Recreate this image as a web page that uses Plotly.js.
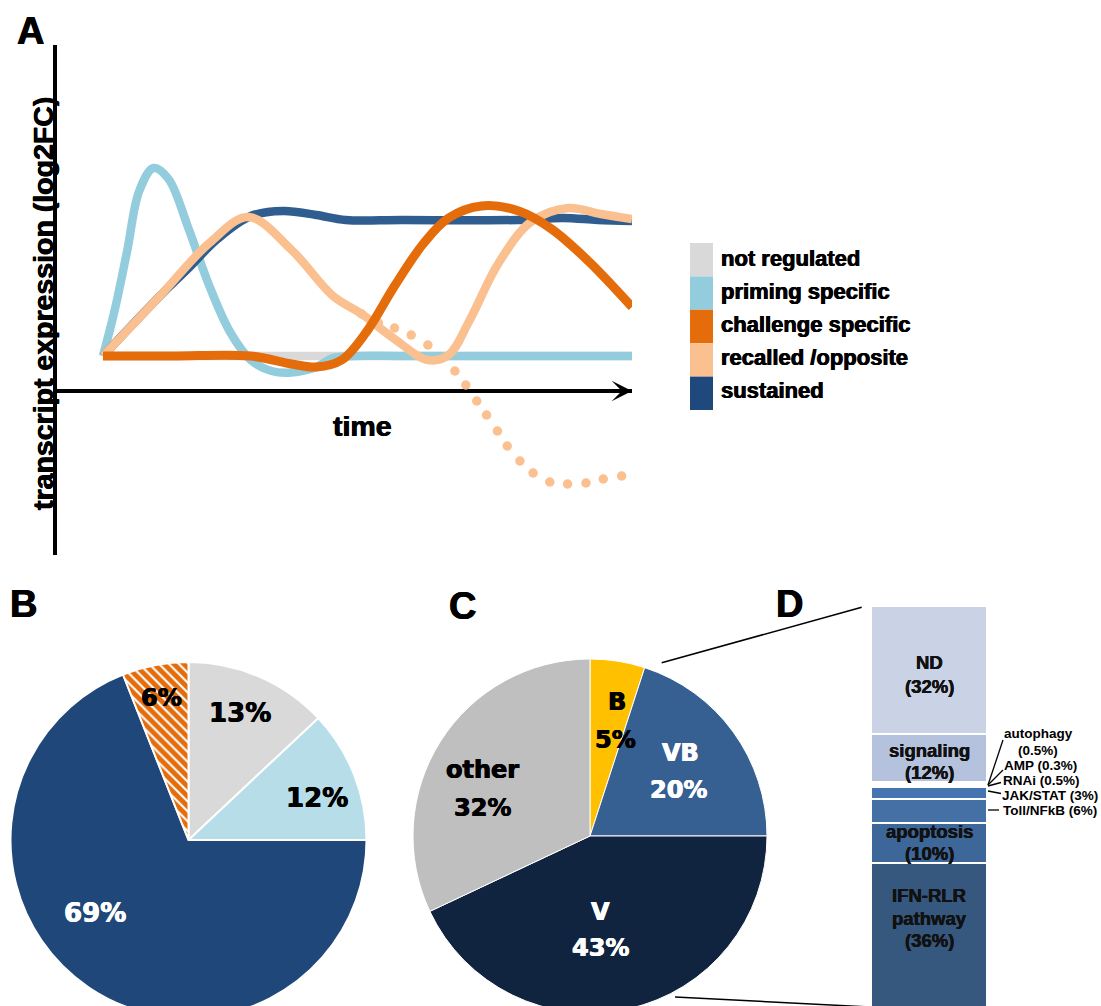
<!DOCTYPE html>
<html>
<head>
<meta charset="utf-8">
<script src="https://cdn.plot.ly/plotly-3.0.1.min.js"></script>
<style>
  html, body { margin: 0; padding: 0; background: #ffffff; }
  #wrap { width: 1101px; height: 1006px; overflow: hidden; position: relative; }
  #chart { width: 1101px; height: 1020px; }
</style>
</head>
<body>
<div id="wrap"><div id="chart"></div></div>
<script>
// ---------------- DATA ----------------
// Panel A: schematic expression profiles (time 0-100, log2FC units)
const seriesNames = ['not regulated', 'priming specific', 'challenge specific', 'recalled /opposite', 'sustained'];
const seriesColors = ['#D9D9D9', '#93CDDD', '#E46C0A', '#FAC090', '#1F497D'];

const notRegT = [8, 100];
const notRegY = [3.5, 3.5];

const primingT = [8, 10, 12.2, 14.3, 16.8, 19.4, 22.9, 26.5, 30.1, 33.7, 37.3, 40.8, 45.1, 48, 52, 60, 100];
const primingY = [3.5, 8.0, 14.0, 20.0, 22.3, 21.2, 16.2, 10.5, 5.9, 3.1, 2.0, 1.85, 2.4, 3.3, 3.5, 3.5, 3.5];

const sustainedT = [8, 17.9, 22.9, 27.9, 33.7, 39.4, 45.1, 50.2, 60, 80, 88, 94, 100];
const sustainedY = [3.5, 9.5, 12.3, 15.2, 17.5, 18.0, 17.6, 17.1, 17.1, 17.1, 17.3, 17.1, 17.0];

const recalledT = [8, 17.9, 26.5, 33.3, 40.8, 48, 53, 58.7, 64.5, 68.1, 71.7, 76.7, 82.4, 88.9, 94.6, 100];
const recalledY = [3.5, 9.5, 14.8, 17.4, 14.1, 9.5, 7.7, 5.2, 3.1, 3.6, 7.0, 12.7, 16.9, 18.3, 17.7, 17.2];

const oppositeT = [53, 55.9, 58.7, 61.6, 64.5, 69.2, 71.1, 73, 74.7, 76.6, 78.3, 80.5, 82.8, 85.7, 88.8, 92, 95, 98.2];
const oppositeY = [7.7, 6.8, 6.3, 5.6, 4.6, 2.0, 0.6, -1.0, -2.4, -4.0, -5.5, -7.0, -8.2, -9.1, -9.3, -9.2, -8.8, -8.5];

const challengeT = [8, 20, 33.7, 40.8, 45.1, 49.5, 53.8, 58.7, 63.8, 68.1, 73.8, 80.3, 86, 92.4, 100];
const challengeY = [3.5, 3.5, 3.5, 2.7, 2.4, 3.1, 5.9, 10.5, 14.8, 17.3, 18.5, 18.0, 16.2, 13.0, 8.4];

// Panel B pie
const pieBLabels = ['not regulated', 'priming specific', 'sustained', 'challenge specific'];
const pieBValues = [13, 12, 69, 6];
const pieBText = ['13%', '12%', '69%', '6%'];
const pieBColors = ['#D9D9D9', '#B7DEE8', '#1F4779', '#E46C0A'];

// Panel C pie
const pieCLabels = ['B', 'VB', 'V', 'other'];
const pieCValues = [5, 20, 43, 32];
const pieCColors = ['#FFC000', '#376092', '#10243F', '#BFBFBF'];

// Panel D stacked bar (bottom to top)
const barDLabels = ['IFN-RLR pathway', 'apoptosis', 'Toll/NFkB', 'JAK/STAT', 'RNAi', 'AMP', 'autophagy', 'signaling', 'ND'];
const barDValues = [36, 10, 6, 3, 0.5, 0.3, 0.5, 12, 32];
const barDColors = ['#36587F', '#3D6699', '#4470A6', '#4674B0', '#7F9CCB', '#9AB0D6', '#A9BBDC', '#B4C2DD', '#CAD3E5'];

// ---------------- LAYOUT HELPERS ----------------
const W = 1101, H = 1020;
const X = p => p / W;
const Y = p => 1 - p / H;
const FONT = 'Liberation Sans, Arial, Helvetica, sans-serif';
const HEAVY = 'DejaVu Sans, Liberation Sans, sans-serif';

function ann(text, x, y, size, color, extra, family, sh) {
  const c = color || '#000';
  const s = (sh === undefined) ? 0.45 : sh;
  return Object.assign({
    text: '<b>' + text + '</b>', x: X(x), y: Y(y), xref: 'paper', yref: 'paper',
    showarrow: false, xanchor: 'center', yanchor: 'middle',
    font: { family: family || FONT, size: size, color: c,
            shadow: s > 0 ? (s + 'px 0 0 ' + c + ', -' + s + 'px 0 0 ' + c) : 'none' }
  }, extra || {});
}
function seg(x0, y0, x1, y1, w) {
  return { type: 'line', xref: 'paper', yref: 'paper', x0: X(x0), y0: Y(y0), x1: X(x1), y1: Y(y1),
           line: { color: '#000', width: w || 1.3 } };
}

// ---------------- TRACES ----------------
const lineW = 8.5;
const traces = [
  { type: 'scatter', mode: 'lines', x: notRegT, y: notRegY, name: seriesNames[0],
    line: { color: seriesColors[0], width: lineW }, hoverinfo: 'skip' },
  { type: 'scatter', mode: 'lines', x: primingT, y: primingY, name: seriesNames[1],
    line: { color: seriesColors[1], width: lineW, shape: 'spline', smoothing: 1 }, hoverinfo: 'skip' },
  { type: 'scatter', mode: 'lines', x: sustainedT, y: sustainedY, name: seriesNames[4],
    line: { color: '#2F5D8F', width: lineW, shape: 'spline', smoothing: 1 }, hoverinfo: 'skip' },
  { type: 'scatter', mode: 'markers', x: oppositeT, y: oppositeY, name: 'opposite',
    marker: { color: seriesColors[3], size: 9.5 }, hoverinfo: 'skip' },
  { type: 'scatter', mode: 'lines', x: recalledT, y: recalledY, name: seriesNames[3],
    line: { color: seriesColors[3], width: lineW, shape: 'spline', smoothing: 1 }, hoverinfo: 'skip' },
  { type: 'scatter', mode: 'lines', x: challengeT, y: challengeY, name: seriesNames[2],
    line: { color: seriesColors[2], width: 9, shape: 'spline', smoothing: 1 }, hoverinfo: 'skip' },
  { type: 'pie', labels: pieBLabels, values: pieBValues, sort: false, direction: 'clockwise', rotation: 0,
    domain: { x: [X(10.5), X(366.5)], y: [Y(1018), Y(662)] },
    marker: { colors: pieBColors, line: { color: '#ffffff', width: 2 },
              pattern: { shape: ['', '', '', '\\'], fgcolor: '#ffffff', bgcolor: pieBColors, size: 7, solidity: 0.3 } },
    textinfo: 'none', hoverinfo: 'skip' },
  { type: 'pie', labels: pieCLabels, values: pieCValues, sort: false, direction: 'clockwise', rotation: 0,
    domain: { x: [X(413), X(767)], y: [Y(1013), Y(659)] },
    marker: { colors: pieCColors, line: { color: '#ffffff', width: 1 } },
    textinfo: 'none', hoverinfo: 'skip' }
];
barDLabels.forEach((lab, i) => {
  traces.push({ type: 'bar', x: ['D'], y: [barDValues[i]], name: lab, xaxis: 'x2', yaxis: 'y2',
    marker: { color: barDColors[i], line: { color: '#ffffff', width: 2 } }, hoverinfo: 'skip', width: 1 });
});

// ---------------- ANNOTATIONS ----------------
const annotations = [
  ann('A', 30, 31, 38), ann('B', 23, 604, 38), ann('C', 462, 606, 38), ann('D', 789, 604, 38),
  ann('transcript expression (log2FC)', 43, 304, 28.5, '#000', { textangle: -90 }),
  ann('time', 362, 426, 28.5),
  { x: 100, y: 0, xref: 'x', yref: 'y', ax: -34, ay: 0, text: '', showarrow: true,
    arrowhead: 3, arrowsize: 0.85, arrowwidth: 4, arrowcolor: '#000', standoff: 0 },
  // pie B
  ann(pieBText[0], 240, 713, 26, '#000', {}, HEAVY), ann(pieBText[1], 317, 798, 26, '#000', {}, HEAVY),
  ann(pieBText[3], 161, 698, 24, '#000', {}, HEAVY),
  ann(pieBText[2], 95, 913, 26, '#ffffff', {}, HEAVY),
  // pie C
  ann('B', 617, 702, 24, '#000', {}, HEAVY), ann('5%', 615, 740, 24, '#000', {}, HEAVY),
  ann('VB', 680, 753, 24, '#ffffff', {}, HEAVY), ann('20%', 678, 790, 24, '#ffffff', {}, HEAVY),
  ann('other', 482, 770, 24, '#000', {}, HEAVY), ann('32%', 482, 808, 24, '#000', {}, HEAVY),
  ann('V', 600, 912, 24, '#ffffff', {}, HEAVY), ann('43%', 600, 948, 24, '#ffffff', {}, HEAVY),
  // bar D inner labels
  ann('ND', 929, 662, 18.5, '#111', {}, FONT, 0.3), ann('(32%)', 929, 686, 18.5, '#111', {}, FONT, 0.3),
  ann('signaling', 929, 750, 18.5, '#111', {}, FONT, 0.3), ann('(12%)', 929, 772, 18.5, '#111', {}, FONT, 0.3),
  ann('apoptosis', 929, 831, 18.5, '#111', {}, FONT, 0.3), ann('(10%)', 929, 853, 18.5, '#111', {}, FONT, 0.3),
  ann('IFN-RLR', 929, 895, 18.5, '#111', {}, FONT, 0.3), ann('pathway', 929, 918, 18.5, '#111', {}, FONT, 0.3),
  ann('(36%)', 929, 940, 18.5, '#111', {}, FONT, 0.3),
  // bar D side labels
  ann('autophagy', 1038, 733, 13.5, '#000', {}, FONT, 0), ann('(0.5%)', 1038, 750, 13.5, '#000', {}, FONT, 0),
  ann('AMP (0.3%)', 1002, 765, 13.5, '#000', { xanchor: 'left' }, FONT, 0),
  ann('RNAi (0.5%)', 1001, 780, 13.5, '#000', { xanchor: 'left' }, FONT, 0),
  ann('JAK/STAT (3%)', 1000, 795, 13.5, '#000', { xanchor: 'left' }, FONT, 0),
  ann('Toll/NFkB (6%)', 1001, 810, 13.5, '#000', { xanchor: 'left' }, FONT, 0)
];
// legend text
seriesNames.forEach((n, i) => {
  annotations.push(ann(n, 719, 258 + i * 33, 22, '#000', { xanchor: 'left' }));
});

// ---------------- SHAPES ----------------
const shapes = [];
seriesColors.forEach((c, i) => {
  shapes.push({ type: 'rect', xref: 'paper', yref: 'paper',
    x0: X(690), x1: X(713), y0: Y(243 + (i + 1) * 33.4), y1: Y(243 + i * 33.4),
    fillcolor: c, line: { width: 0 } });
});
shapes.push(seg(661.7, 662.7, 861.7, 607.3, 1.5));
shapes.push(seg(675, 997, 870, 1007, 1.5));
shapes.push(seg(1003, 740, 988, 785));
shapes.push(seg(1003, 770, 988, 785));
shapes.push(seg(1001, 782.5, 988, 786));
shapes.push(seg(988, 791, 1001, 793.5));
shapes.push(seg(988, 810, 999, 810));

const layout = {
  width: W, height: H, autosize: false,
  margin: { l: 0, r: 0, t: 0, b: 0, pad: 0 },
  paper_bgcolor: '#ffffff', plot_bgcolor: 'rgba(0,0,0,0)',
  showlegend: false, barmode: 'stack', bargap: 0,
  font: { family: FONT },
  xaxis: { domain: [X(57), X(632)], range: [0, 100], showgrid: false, zeroline: false,
           showticklabels: false, ticks: '', showline: false, fixedrange: true },
  yaxis: { domain: [Y(555), Y(45)], range: [-16.4, 34.6], showgrid: false,
           zeroline: true, zerolinewidth: 4, zerolinecolor: '#000',
           showline: true, linewidth: 4, linecolor: '#000',
           showticklabels: false, ticks: '', fixedrange: true },
  xaxis2: { domain: [X(870.7), X(987.3)], anchor: 'y2', range: [-0.5, 0.5], visible: false, fixedrange: true },
  yaxis2: { domain: [Y(1007), Y(606)], anchor: 'x2', range: [0, 100.3], visible: false, fixedrange: true },
  annotations: annotations,
  shapes: shapes
};

Plotly.newPlot('chart', traces, layout, { staticPlot: true, displayModeBar: false });
</script>
</body>
</html>
